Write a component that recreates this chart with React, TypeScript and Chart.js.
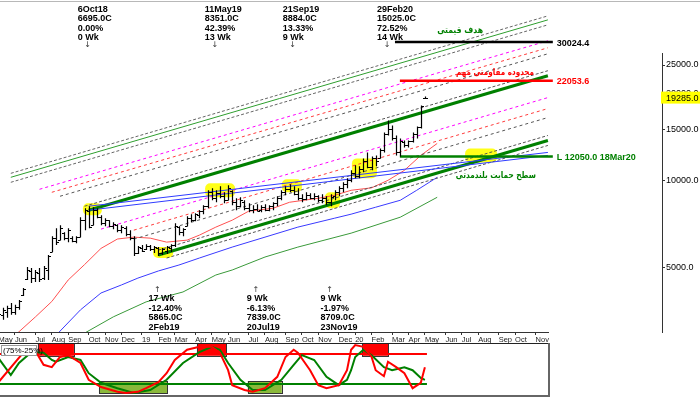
import React, { useEffect, useRef } from 'react';
import { Chart, registerables } from 'chart.js';

Chart.register(...registerables);

const FONT = '"Liberation Sans", Arial, sans-serif';

// ---------- axis ----------
// weekly bars (week ending Saturday); index 0 = 5 May 2018
const monthTickIdx = [0, 4, 9, 13, 17, 22, 26, 30, 35, 39, 43, 48, 52, 56, 61, 65, 70, 74, 78, 83, 87, 91, 96, 100, 104, 109, 113, 117, 122, 126, 131];
const monthTickLabels = ['May', 'Jun', 'Jul', 'Aug', 'Sep', 'Oct', 'Nov', 'Dec', '19', 'Feb', 'Mar', 'Apr', 'May', 'Jun', 'Jul', 'Aug', 'Sep', 'Oct', 'Nov', 'Dec', '20', 'Feb', 'Mar', 'Apr', 'May', 'Jun', 'Jul', 'Aug', 'Sep', 'Oct', 'Nov'];
const priceTicks = [5000, 10000, 15000, 20000, 25000];

// ---------- weekly OHLC ----------
const opens = [3285, 3400, 3500, 3600, 3500, 3650, 4000, 4550, 4850, 4600,
  4750, 4600, 4900, 5650, 6300, 6200, 6550, 6300, 6300, 6150,
  6350, 7300, 7800, 7000, 7900, 7450, 7100, 7250, 6950, 7000,
  6700, 6850, 6500, 6300, 5600, 5800, 5750, 5900, 5750, 5800,
  5600, 5700, 5800, 5950, 6900, 6600, 6950, 7400, 7300, 7550,
  7800, 8100, 9100, 8700, 9000, 8800, 8550, 9150, 8400, 8100,
  8400, 8000, 7850, 7950, 7900, 8050, 7900, 8100, 8300, 8700,
  9100, 9300, 9200, 8950, 8700, 8600, 8900, 8700, 8800, 8500,
  8700, 8400, 8800, 9100, 9400, 9700, 10000, 10600, 10300, 10900,
  11600, 11100, 11900, 11900, 12700, 14400, 15000, 14000, 12500, 13500,
  13200, 13600, 14400, 15200, 19200];
const highs = [3499, 3614, 3671, 3758, 3700, 3848, 4232, 5000, 4961, 4883,
  4961, 5040, 5501, 6396, 6817, 6980, 6601, 6817, 6396, 6396,
  7438, 7989, 8117, 8053, 7989, 7557, 7380, 7263, 7149, 7036,
  6980, 6925, 6707, 6396, 5908, 5955, 6001, 5955, 5908, 5861,
  5815, 5908, 6001, 7093, 6925, 6817, 7498, 7618, 7679, 7863,
  8182, 9215, 9363, 9215, 9513, 9070, 9589, 9215, 8649, 8717,
  8512, 8312, 8182, 8247, 8182, 8247, 8182, 8378, 8787, 9215,
  9513, 9665, 9513, 9363, 8927, 9070, 8998, 8998, 8857, 8927,
  8787, 8927, 9215, 9513, 9820, 10138, 10802, 11239, 11150, 11881,
  12460, 12071, 12167, 12862, 14606, 16066, 15440, 14263, 13927, 13706,
  13706, 14606, 15318, 18095, 19438];
const lows = [3233, 3285, 3335, 3416, 3416, 3555, 3970, 4510, 4405, 4440,
  4440, 4510, 4510, 5633, 5955, 6195, 6195, 6097, 6097, 6049,
  6345, 6707, 6817, 6980, 7380, 6980, 6925, 6871, 6763, 6601,
  6549, 6396, 6195, 5458, 5545, 5633, 5723, 5678, 5589, 5458,
  5501, 5545, 5633, 5861, 6447, 6396, 6925, 7149, 7206, 7380,
  7618, 7989, 8512, 8378, 8649, 8312, 8512, 8182, 7863, 8053,
  7863, 7740, 7679, 7801, 7740, 7801, 7801, 7863, 8117, 8512,
  8857, 9070, 8857, 8512, 8378, 8512, 8580, 8512, 8378, 8312,
  8182, 8117, 8512, 8787, 9070, 9363, 9820, 10138, 10138, 10631,
  10975, 10802, 11150, 11881, 12460, 14263, 13706, 12167, 12050, 12964,
  12964, 13489, 13927, 15077, 19132];
const closes = [3450, 3550, 3620, 3500, 3650, 3800, 4200, 4900, 4600, 4800,
  4550, 4950, 5450, 6300, 6100, 6800, 6300, 6700, 6150, 6350,
  7300, 7900, 6900, 7900, 7450, 7100, 7300, 6950, 7050, 6700,
  6900, 6500, 6300, 5600, 5850, 5700, 5900, 5750, 5850, 5600,
  5750, 5850, 5950, 6950, 6600, 6750, 7400, 7300, 7600, 7800,
  8100, 9100, 8700, 9000, 8800, 8500, 9400, 8400, 8100, 8500,
  8000, 7850, 7950, 7839, 8050, 7900, 8100, 8300, 8700, 9100,
  9300, 9200, 8950, 8700, 8600, 8900, 8700, 8800, 8500, 8700,
  8400, 8709, 9100, 9400, 9700, 10000, 10600, 10300, 10900, 11600,
  11100, 11900, 11600, 12700, 14400, 15025, 14000, 12500, 13600, 13200,
  13600, 14400, 15200, 18000, 19285];
const lastPrice = 19285;

// ---------- moving averages ----------
const maRedIdx = [4, 9, 13, 17, 21, 25, 29, 33, 37, 41, 46, 49, 53, 57, 61, 67, 71, 78, 82, 86, 91, 95, 99, 103, 107];
const maRedVal = [2900, 3360, 3800, 4510, 5100, 5800, 6250, 6345, 6295, 6097, 6195, 6447, 6871, 7263, 7800, 7989, 8378, 8649, 8857, 9215, 9400, 9977, 10802, 12167, 13383];
const maBlueIdx = [14, 20, 25, 30, 34, 39, 44, 49, 57, 65, 73, 82, 86, 92, 98, 102, 107];
const maBlueVal = [2900, 3555, 4066, 4335, 4578, 4846, 5080, 5372, 5861, 6345, 6871, 7380, 7618, 8053, 8512, 9215, 10219];
const maGreenIdx = [20, 28, 36, 45, 53, 57, 65, 73, 86, 98, 107];
const maGreenVal = [2900, 3362, 3788, 4099, 4692, 4883, 5415, 5861, 6549, 7438, 8717];

// ---------- parallel channel lines ----------
const channelStartIdx = [3, 3, 3, 10, 13, 15, 21, 22, 25, 33, 33, 39, 39, 41];
const channelStartVal = [10548, 10219, 9820, 9289, 9070, 8787, 8117, 7863, 6763, 6707, 6245, 5723, 5501, 5372];
const channelEndIdx = 134;
const channelEndVal = [36980, 35820, 34430, 30320, 28680, 27340, 23890, 22960, 19285, 17670, 16450, 14263, 13706, 13172];
const channelStyle = [
  { color: '#666666', width: 1, dash: [3, 2] },
  { color: '#2e9e2e', width: 1, dash: [] },
  { color: '#666666', width: 1, dash: [3, 2] },
  { color: '#ff00ff', width: 1, dash: [3, 3] },
  { color: '#ff3b3b', width: 1, dash: [3, 3] },
  { color: '#555555', width: 1, dash: [3, 3] },
  { color: '#555555', width: 1, dash: [3, 2] },
  { color: '#008000', width: 3, dash: [] },
  { color: '#ff00ff', width: 1, dash: [3, 3] },
  { color: '#ff3b3b', width: 1, dash: [3, 3] },
  { color: '#555555', width: 1, dash: [3, 3] },
  { color: '#555555', width: 1, dash: [3, 2] },
  { color: '#008000', width: 3, dash: [] },
  { color: '#555555', width: 1, dash: [3, 2] },
];

// ---------- blue fan from the Oct-18 top ----------
const fanStartIdx = 22;
const fanStartVal = [8117, 7863];
const fanEndIdx = 134;
const fanEndVal = [12460, 12167];

// ---------- horizontal levels ----------
const levelVal = [30024.4, 22053.6, 12050];
const levelStartIdx = [96.7, 97.9, 97.9];
const levelEndIdx = 135.2;
const levelLabel = ['30024.4', '22053.6', 'L 12050.0 18Mar20'];
const levelColor = ['#000000', '#ff0000', '#008000'];

// ---------- yellow highlights ----------
const hlStartIdx = [20.6, 37.7, 50.4, 69.1, 79.6, 86.2, 113.8];
const hlEndIdx = [25.2, 42.6, 57.7, 74, 83.3, 92.3, 121.6];
const hlHigh = [8312, 5861, 9742, 10058, 9070, 11881, 12862];
const hlLow = [7557, 5372, 8717, 9070, 7989, 10138, 11509];

// ---------- swing notes ----------
const topNoteIdx = [22, 53, 72, 95];
const topNoteDate = ['6Oct18', '11May19', '21Sep19', '29Feb20'];
const topNoteClose = ['6695.0C', '8351.0C', '8884.0C', '15025.0C'];
const topNotePct = ['0.00%', '42.39%', '13.33%', '72.52%'];
const topNoteWk = ['0 Wk', '13 Wk', '9 Wk', '14 Wk'];
const botNoteIdx = [39, 63, 81];
const botNoteWk = ['17 Wk', '9 Wk', '9 Wk'];
const botNotePct = ['-12.40%', '-6.13%', '-1.97%'];
const botNoteClose = ['5865.0C', '7839.0C', '8709.0C'];
const botNoteDate = ['2Feb19', '20Jul19', '23Nov19'];

// ---------- Persian captions ----------
const captionText = ['هدف قیمتی', 'محدوده مقاومتی مهم', 'سطح حمایت بلندمدتی'];
const captionIdx = [112.6, 121.1, 121.3];
const captionVal = [32830, 23510, 10381];
const captionWidth = [46, 78, 80];
const captionColor = ['#008000', '#ff0000', '#008000'];

// ---------- stochastic oscillator ----------
const stochKIdx = [0, 6, 8, 9, 11, 13, 15, 17, 20, 22, 25, 29, 31, 34, 36, 39, 41, 43, 46, 49, 52, 54, 56, 57, 60, 62, 65, 68, 70, 72, 73, 76, 78, 80, 83, 85, 86, 87, 89, 91, 92, 94, 95, 97, 99, 101, 103, 104];
const stochKVal = [28, 77, 82, 80, 57, 53, 70, 73, 60, 32, 20, 12, 10, 12, 18, 28, 43, 65, 82, 87, 87, 77, 48, 23, 15, 12, 18, 37, 70, 82, 77, 48, 23, 18, 23, 48, 82, 90, 87, 70, 48, 38, 62, 53, 43, 18, 27, 53];
const stochDIdx = [0, 3, 5, 8, 11, 13, 14, 17, 20, 22, 25, 29, 33, 37, 41, 45, 49, 52, 54, 56, 59, 62, 65, 69, 72, 74, 77, 80, 83, 85, 86, 87, 89, 91, 94, 96, 99, 101, 103, 104];
const stochDVal = [68, 40, 60, 78, 77, 65, 62, 70, 65, 43, 27, 18, 10, 15, 32, 60, 78, 87, 82, 60, 32, 15, 15, 32, 57, 73, 65, 37, 23, 32, 48, 70, 82, 73, 53, 48, 53, 48, 35, 32];
const stochUpper = 75;
const stochLower = 25;
const stochLastIdx = 104.5;
const obStartIdx = [9.6, 48.4, 88.7];
const obEndIdx = [18.4, 55.5, 95.0];
const osStartIdx = [24.5, 60.8];
const osEndIdx = [41.1, 69.1];
const obRange = [72, 100];
const osRange = [10, 30];

// ---------- layout ----------
const X_MIN = 0.366;
const X_MAX_MAIN = 161.83;
const X_MAX_OSC = 134.27;

const pts = (idx: number[], val: number[]) => idx.map((x, k) => ({ x, y: val[k] }));

const mainPlugin = {
  id: 'mainDecor',
  beforeDatasetsDraw(chart: any) {
    const { ctx, scales: { x, y }, chartArea } = chart;
    ctx.save();
    ctx.beginPath();
    ctx.rect(chartArea.left, chartArea.top, chartArea.width, chartArea.height);
    ctx.clip();
    ctx.fillStyle = 'rgba(255,255,0,0.9)';
    for (let k = 0; k < hlStartIdx.length; k++) {
      const x0 = x.getPixelForValue(hlStartIdx[k]);
      const x1 = x.getPixelForValue(hlEndIdx[k]);
      const y0 = y.getPixelForValue(hlHigh[k]);
      const y1 = y.getPixelForValue(hlLow[k]);
      ctx.beginPath();
      (ctx as any).roundRect(x0, y0, x1 - x0, y1 - y0, 5);
      ctx.fill();
    }
    ctx.restore();
  },
  afterDatasetsDraw(chart: any) {
    const { ctx, scales: { x, y }, chartArea } = chart;
    ctx.save();
    ctx.beginPath();
    ctx.rect(chartArea.left, chartArea.top, chartArea.width, chartArea.height);
    ctx.clip();
    ctx.strokeStyle = '#000';
    ctx.lineWidth = 1.2;
    for (let i = 0; i < opens.length; i++) {
      const px = Math.round(x.getPixelForValue(i)) + 0.5;
      const yh = y.getPixelForValue(highs[i]);
      const yl = y.getPixelForValue(lows[i]);
      const yo = Math.round(y.getPixelForValue(opens[i])) + 0.5;
      const yc = Math.round(y.getPixelForValue(closes[i])) + 0.5;
      ctx.beginPath();
      ctx.moveTo(px, yh);
      ctx.lineTo(px, yl);
      ctx.moveTo(px - 2.5, yo);
      ctx.lineTo(px, yo);
      ctx.moveTo(px, yc);
      ctx.lineTo(px + 2.5, yc);
      ctx.stroke();
    }
    ctx.restore();
  },
  afterDraw(chart: any) {
    const { ctx, scales: { x, y }, chartArea } = chart;
    ctx.save();
    // frame lines
    ctx.strokeStyle = '#b8b8b8';
    ctx.lineWidth = 1;
    ctx.beginPath();
    ctx.moveTo(0, 1.5);
    ctx.lineTo(700, 1.5);
    ctx.stroke();
    ctx.strokeStyle = '#333';
    ctx.beginPath();
    ctx.moveTo(chartArea.left, chartArea.bottom + 0.5);
    ctx.lineTo(x.getPixelForValue(X_MAX_OSC), chartArea.bottom + 0.5);
    ctx.moveTo(chartArea.right + 0.5, chartArea.top + 51);
    ctx.lineTo(chartArea.right + 0.5, chartArea.bottom + 1);
    ctx.stroke();

    // level labels
    ctx.font = `bold 9px ${FONT}`;
    ctx.textBaseline = 'middle';
    ctx.textAlign = 'left';
    for (let k = 0; k < levelVal.length; k++) {
      ctx.fillStyle = levelColor[k];
      ctx.fillText(levelLabel[k], x.getPixelForValue(levelEndIdx) + 4, y.getPixelForValue(levelVal[k]) + 1);
    }

    // captions
    ctx.font = `bold 9px "DejaVu Sans", sans-serif`;
    ctx.textAlign = 'center';
    for (let k = 0; k < captionText.length; k++) {
      ctx.fillStyle = captionColor[k];
      ctx.fillText(captionText[k], x.getPixelForValue(captionIdx[k]), y.getPixelForValue(captionVal[k]), captionWidth[k]);
    }

    // swing notes
    ctx.textAlign = 'left';
    ctx.fillStyle = '#000';
    for (let k = 0; k < topNoteIdx.length; k++) {
      const px = x.getPixelForValue(topNoteIdx[k]);
      const lines = [topNoteDate[k], topNoteClose[k], topNotePct[k], topNoteWk[k]];
      ctx.font = `bold 9px ${FONT}`;
      lines.forEach((t, j) => ctx.fillText(t, px - 11, 9.5 + j * 9.4));
      ctx.font = `8px "DejaVu Sans", sans-serif`;
      ctx.textAlign = 'center';
      ctx.fillStyle = '#333';
      ctx.fillText('↓', px - 1, 45);
      ctx.textAlign = 'left';
      ctx.fillStyle = '#000';
    }
    for (let k = 0; k < botNoteIdx.length; k++) {
      const px = x.getPixelForValue(botNoteIdx[k]);
      const lines = [botNoteWk[k], botNotePct[k], botNoteClose[k], botNoteDate[k]];
      ctx.font = `8px "DejaVu Sans", sans-serif`;
      ctx.textAlign = 'center';
      ctx.fillStyle = '#333';
      ctx.fillText('↑', px - 1, 290);
      ctx.textAlign = 'left';
      ctx.fillStyle = '#000';
      ctx.font = `bold 9px ${FONT}`;
      lines.forEach((t, j) => ctx.fillText(t, px - 10, 299 + j * 9.4));
    }

    // current price box
    const py = y.getPixelForValue(lastPrice);
    ctx.fillStyle = '#ffff00';
    ctx.fillRect(chartArea.right - 1, py - 6, 40, 12);
    ctx.fillStyle = '#000';
    ctx.font = `9px ${FONT}`;
    ctx.textAlign = 'left';
    ctx.fillText(lastPrice.toFixed(1), chartArea.right + 4, py + 0.5);
    ctx.restore();
  },
};

const oscPlugin = {
  id: 'oscDecor',
  beforeDatasetsDraw(chart: any) {
    const { ctx, scales: { x, y }, chartArea } = chart;
    ctx.save();
    ctx.beginPath();
    ctx.rect(chartArea.left, chartArea.top, chartArea.width, chartArea.height);
    ctx.clip();
    ctx.lineWidth = 1;
    ctx.strokeStyle = '#333';
    for (let k = 0; k < obStartIdx.length; k++) {
      const x0 = x.getPixelForValue(obStartIdx[k]);
      const x1 = x.getPixelForValue(obEndIdx[k]);
      const y0 = y.getPixelForValue(obRange[1]);
      const y1 = y.getPixelForValue(obRange[0]);
      ctx.fillStyle = '#ff0000';
      ctx.fillRect(x0, y0, x1 - x0, y1 - y0);
      ctx.strokeRect(Math.round(x0) + 0.5, y0, Math.round(x1 - x0), Math.round(y1 - y0) + 0.5);
    }
    for (let k = 0; k < osStartIdx.length; k++) {
      const x0 = x.getPixelForValue(osStartIdx[k]);
      const x1 = x.getPixelForValue(osEndIdx[k]);
      const y0 = y.getPixelForValue(osRange[1]);
      const y1 = y.getPixelForValue(osRange[0]);
      ctx.fillStyle = '#8ab83a';
      ctx.fillRect(x0, y0, x1 - x0, y1 - y0);
      ctx.strokeRect(Math.round(x0) + 0.5, Math.round(y0) + 0.5, Math.round(x1 - x0), Math.round(y1 - y0));
    }
    ctx.restore();
  },
  afterDraw(chart: any) {
    const { ctx, chartArea } = chart;
    ctx.save();
    ctx.strokeStyle = '#222';
    ctx.lineWidth = 1;
    ctx.beginPath();
    ctx.moveTo(0, 0.5);
    ctx.lineTo(chartArea.right, 0.5);
    ctx.stroke();
    ctx.strokeStyle = '#666';
    ctx.lineWidth = 2;
    ctx.beginPath();
    ctx.moveTo(chartArea.right, 0);
    ctx.lineTo(chartArea.right, chartArea.bottom + 1);
    ctx.moveTo(0, chartArea.bottom + 0);
    ctx.lineTo(chartArea.right, chartArea.bottom + 0);
    ctx.stroke();
    // label box
    ctx.fillStyle = '#fff';
    ctx.fillRect(1, 2, 35, 10);
    ctx.strokeStyle = '#999';
    ctx.lineWidth = 1;
    ctx.strokeRect(1.5, 2.5, 35, 10);
    ctx.fillStyle = '#000';
    ctx.font = `8px ${FONT}`;
    ctx.textBaseline = 'middle';
    ctx.fillText('(75%-25%)', 3, 7.5);
    ctx.restore();
  },
};

export default function App() {
  const mainRef = useRef<HTMLCanvasElement>(null);
  const oscRef = useRef<HTMLCanvasElement>(null);

  useEffect(() => {
    Chart.defaults.font.family = FONT;
    const line = (data: any[], color: string, width: number, dash: number[] = []) => ({
      data,
      borderColor: color,
      borderWidth: width,
      borderDash: dash,
      pointRadius: 0,
      tension: 0,
      fill: false,
    });

    const mainSets: any[] = [];
    levelVal.forEach((v, k) => {
      mainSets.push(line([{ x: levelStartIdx[k], y: v }, { x: levelEndIdx, y: v }], levelColor[k], 2.5));
    });
    fanStartVal.forEach((v, k) => {
      mainSets.push(line([{ x: fanStartIdx, y: v }, { x: fanEndIdx, y: fanEndVal[k] }], '#2f3cff', 1));
    });
    channelStartVal.forEach((v, k) => {
      const s = channelStyle[k];
      mainSets.push(line([{ x: channelStartIdx[k], y: v }, { x: channelEndIdx, y: channelEndVal[k] }], s.color, s.width, s.dash));
    });
    mainSets.push(line(pts(maRedIdx, maRedVal), '#ff5050', 1));
    mainSets.push(line(pts(maBlueIdx, maBlueVal), '#3a3aff', 1));
    mainSets.push(line(pts(maGreenIdx, maGreenVal), '#3a9a3a', 1));

    const main = new Chart(mainRef.current!, {
      type: 'line',
      data: { datasets: mainSets },
      options: {
        animation: false,
        responsive: false,
        maintainAspectRatio: false,
        layout: { padding: { top: 2, left: 0, right: 0, bottom: 0 } },
        plugins: { legend: { display: false }, tooltip: { enabled: false } },
        scales: {
          x: {
            type: 'linear',
            min: X_MIN,
            max: X_MAX_MAIN,
            afterBuildTicks: (s: any) => { s.ticks = monthTickIdx.map((v) => ({ value: v })); },
            afterFit: (s: any) => { s.height = 11; s.paddingLeft = 0; s.paddingRight = 0; },
            ticks: {
              autoSkip: false,
              maxRotation: 0,
              minRotation: 0,
              align: 'start',
              padding: 0,
              color: '#222',
              font: { size: 7.5, family: FONT },
              callback: (_v: any, i: number) => monthTickLabels[i],
            },
            grid: { drawOnChartArea: false, drawTicks: true, tickLength: 3, color: '#333' },
            border: { display: false },
          },
          y: {
            type: 'logarithmic',
            position: 'right',
            min: 2980,
            max: 41300,
            afterBuildTicks: (s: any) => { s.ticks = priceTicks.map((v) => ({ value: v })); },
            afterFit: (s: any) => { s.width = 38; s.paddingTop = 0; s.paddingBottom = 0; },
            ticks: {
              padding: 1,
              color: '#000',
              font: { size: 9, family: FONT },
              callback: (v: any) => Number(v).toFixed(1),
            },
            grid: { drawOnChartArea: false, drawTicks: true, tickLength: 3, color: '#333' },
            border: { display: false },
          },
        },
      } as any,
      plugins: [mainPlugin],
    });

    const oscSets: any[] = [
      line(pts(stochKIdx, stochKVal), '#ff0000', 2),
      line(pts(stochDIdx, stochDVal), '#008000', 2),
      line([{ x: X_MIN, y: stochUpper }, { x: stochLastIdx, y: stochUpper }], '#ff0000', 2),
      line([{ x: X_MIN, y: stochLower }, { x: stochLastIdx, y: stochLower }], '#008000', 2),
    ];
    const osc = new Chart(oscRef.current!, {
      type: 'line',
      data: { datasets: oscSets },
      options: {
        animation: false,
        responsive: false,
        maintainAspectRatio: false,
        layout: { padding: { top: 0, left: 0, right: 151, bottom: 1 } },
        plugins: { legend: { display: false }, tooltip: { enabled: false } },
        scales: {
          x: { type: 'linear', display: false, min: X_MIN, max: X_MAX_OSC },
          y: { type: 'linear', display: false, min: 5, max: 93.3 },
        },
      } as any,
      plugins: [oscPlugin],
    });

    return () => {
      main.destroy();
      osc.destroy();
    };
  }, []);

  return (
    <div style={{ position: 'absolute', left: 0, top: 0, width: 700, height: 397, background: '#fff', overflow: 'hidden' }}>
      <canvas ref={mainRef} width={700} height={343} style={{ position: 'absolute', left: 0, top: 0 }} />
      <canvas ref={oscRef} width={700} height={54} style={{ position: 'absolute', left: 0, top: 343 }} />
    </div>
  );
}
